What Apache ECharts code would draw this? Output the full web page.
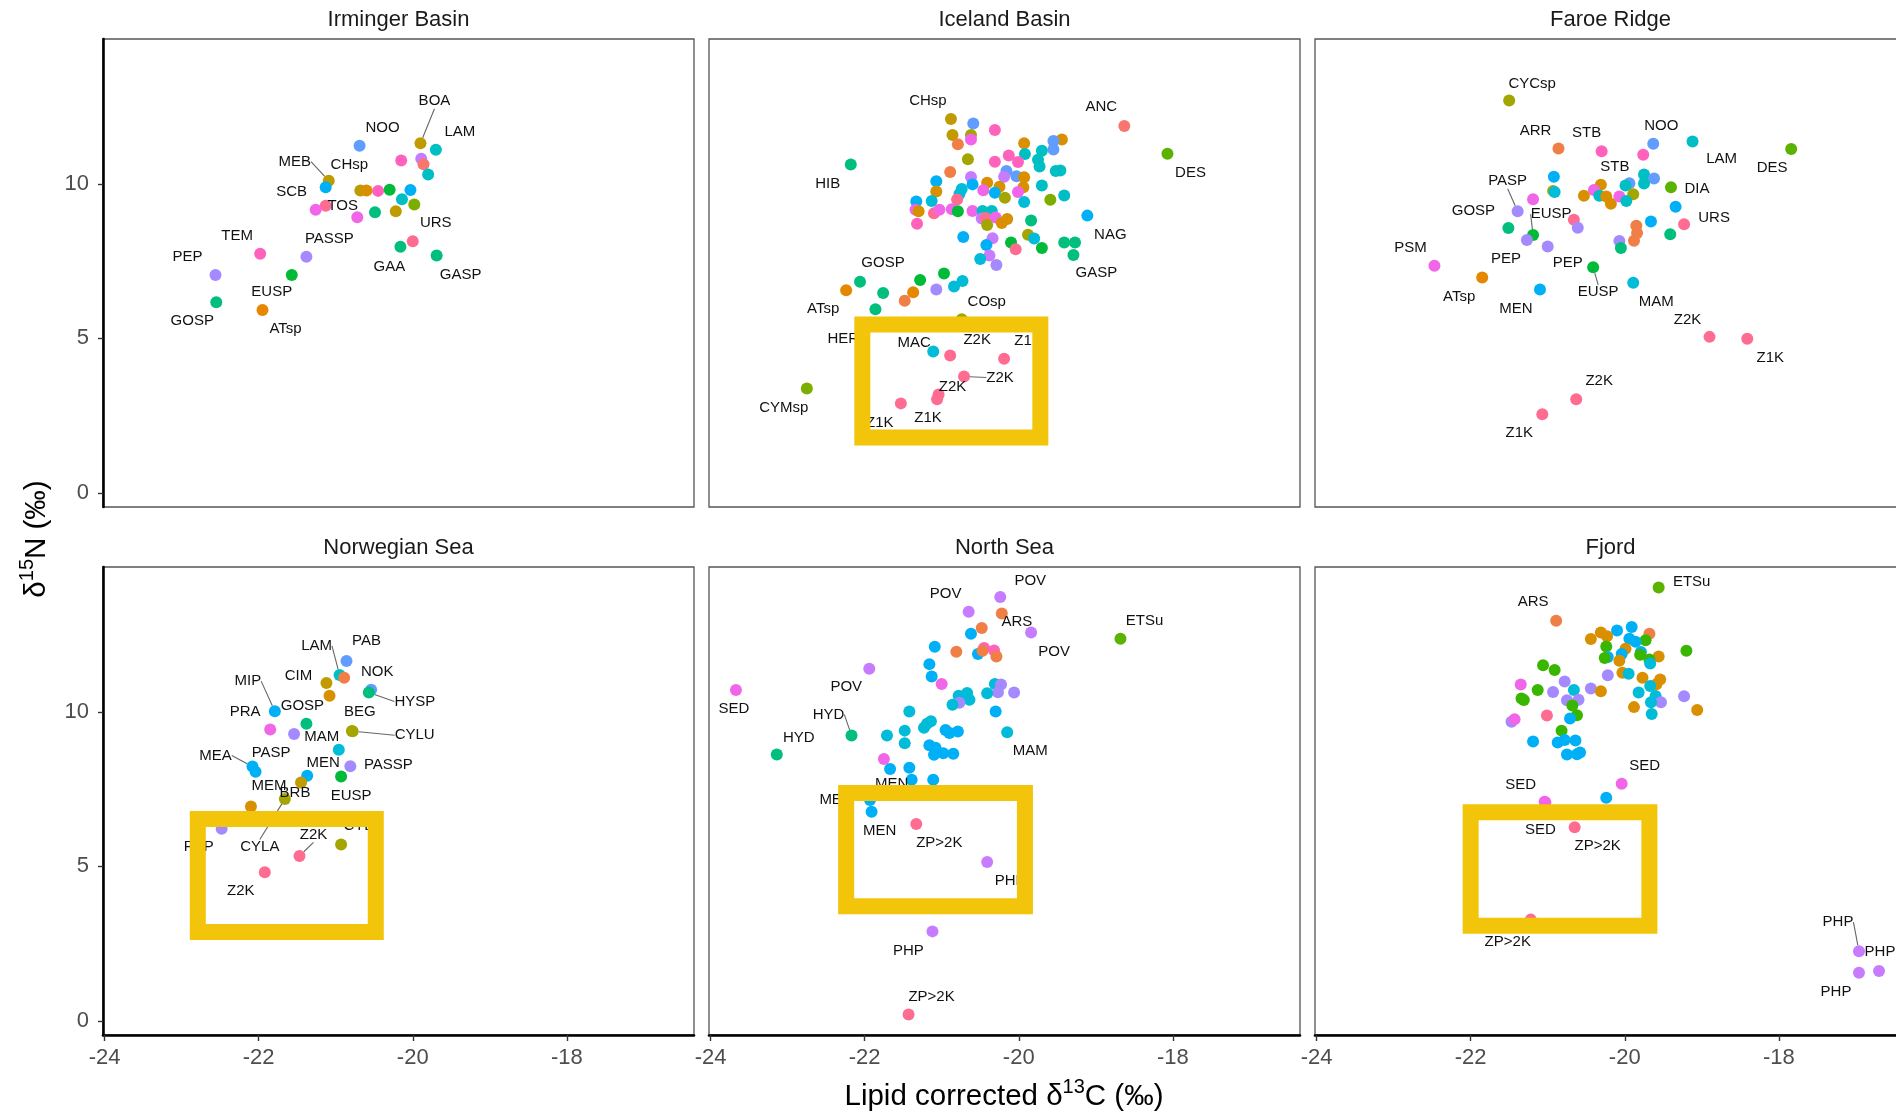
<!DOCTYPE html>
<html>
<head>
<meta charset="utf-8">
<script src="https://cdn.jsdelivr.net/npm/echarts@6/dist/echarts.min.js"></script>
<style>
  html, body { margin: 0; padding: 0; background: #ffffff; }
  #chart { width: 1896px; height: 1115px; }
</style>
</head>
<body>
<div id="chart"></div>
<script>
// ---------------------------------------------------------------------------
// Stable isotope biplots (δ13C vs δ15N) per region, taxa coloured by group.
// ---------------------------------------------------------------------------

const regionNames = ['Irminger Basin', 'Iceland Basin', 'Faroe Ridge', 'Norwegian Sea', 'North Sea', 'Fjord'];
const xTicks = [-24, -22, -20, -18];
const yTicks = [0, 5, 10];

// taxon group -> colour (hue wheel)
const taxonColours = ['#F8766D', '#EF7F46', '#E58700', '#D89000', '#C09B00', '#A3A500', '#5BB300',
  '#00BA38', '#00BF7D', '#00BFC4', '#00BCD8', '#00B0F6', '#619CFF', '#A58AFF', '#C77CFF',
  '#F166E8', '#FF62BC', '#FF6C91', '#7CAE00', '#39B600'];

// ---- Irminger Basin
const irmingerC = [-20.69, -19.90, -19.70, -20.15, -19.89, -19.86, -19.80, -21.09, -21.13, -20.68, -20.60, -20.45, -20.30, -20.03, -20.14, -19.98, -21.13, -21.26, -20.49, -20.22, -20.72, -20.00, -20.16, -19.69, -21.98, -21.38, -22.56, -21.57, -22.55, -21.95];
const irmingerN = [11.23, 11.31, 11.10, 10.75, 10.81, 10.63, 10.30, 10.10, 9.89, 9.78, 9.78, 9.77, 9.81, 9.80, 9.50, 9.33, 9.29, 9.16, 9.08, 9.11, 8.92, 8.14, 7.96, 7.68, 7.74, 7.64, 7.05, 7.05, 6.17, 5.92];
const irmingerGroup = [12, 4, 9, 16, 14, 0, 9, 4, 11, 4, 3, 16, 7, 11, 9, 18, 17, 15, 8, 4, 15, 17, 8, 8, 16, 13, 13, 7, 8, 2];
const irmingerTaxon = ['NOO', 'BOA', 'LAM', '', '', '', '', 'MEB', 'SCB', 'CHsp', '', '', '', '', '', '', 'TOS', '', '', '', '', 'URS', 'GAA', 'GASP', 'TEM', 'PASSP', 'PEP', 'EUSP', 'GOSP', 'ATsp'];

// ---- Iceland Basin
const icelandC = [-18.63, -18.07, -22.18, -20.88, -20.59, -20.31, -20.86, -20.62, -20.62, -20.79, -19.93, -19.44, -19.55, -19.55, -19.92, -19.70, -20.66, -20.31, -20.13, -20.01, -19.75, -19.73, -19.52, -19.46, -20.89, -20.16, -20.19, -20.03, -19.93, -20.62, -21.07, -20.41, -20.60, -20.25, -19.94, -20.74, -19.70, -20.46, -21.07, -20.31, -20.77, -20.18, -20.01, -19.41, -19.59, -19.93, -21.33, -21.13, -20.80, -21.34, -21.30, -21.10, -21.03, -20.87, -20.79, -20.60, -20.47, -20.35, -20.48, -20.43, -20.30, -20.41, -20.22, -20.15, -21.32, -19.84, -19.11, -20.72, -20.34, -19.88, -19.80, -20.10, -19.70, -19.41, -19.27, -19.29, -20.42, -20.04, -20.38, -20.50, -20.29, -20.97, -21.28, -20.73, -20.84, -21.07, -22.06, -22.24, -21.76, -21.37, -21.48, -21.86, -20.74, -22.03, -21.11, -20.89, -20.19, -20.71, -21.04, -21.06, -21.53, -22.75];
const icelandN = [11.87, 10.97, 10.62, 12.09, 11.95, 11.74, 11.58, 11.58, 11.43, 11.28, 11.31, 11.43, 11.38, 11.11, 10.96, 11.07, 10.79, 10.71, 10.91, 10.70, 10.78, 10.56, 10.41, 10.43, 10.38, 10.41, 10.23, 10.24, 10.21, 10.22, 10.08, 10.03, 9.98, 9.90, 9.89, 9.83, 9.94, 9.79, 9.75, 9.71, 9.67, 9.55, 9.73, 9.62, 9.48, 9.41, 9.43, 9.44, 9.49, 9.16, 9.11, 9.05, 9.16, 9.18, 9.11, 9.12, 9.12, 9.12, 8.88, 8.89, 8.91, 8.67, 8.73, 8.86, 8.71, 8.81, 8.97, 8.28, 8.24, 8.35, 8.23, 8.10, 7.92, 8.10, 8.10, 7.70, 8.02, 7.88, 7.68, 7.57, 7.37, 7.10, 6.89, 6.86, 6.68, 6.58, 6.83, 6.56, 6.47, 6.49, 6.22, 5.94, 5.62, 4.92, 4.58, 4.45, 4.34, 3.77, 3.19, 3.03, 2.90, 3.38];
const icelandGroup = [0, 6, 8, 4, 12, 16, 4, 5, 15, 1, 3, 3, 12, 12, 9, 9, 5, 16, 16, 16, 9, 9, 9, 9, 1, 12, 14, 12, 3, 14, 11, 3, 11, 3, 3, 10, 9, 15, 3, 11, 10, 5, 15, 9, 18, 10, 11, 10, 17, 15, 3, 17, 15, 15, 7, 15, 9, 9, 14, 17, 15, 5, 3, 3, 16, 8, 11, 11, 14, 5, 10, 7, 7, 8, 8, 8, 11, 17, 14, 10, 13, 7, 7, 10, 10, 13, 8, 2, 8, 2, 1, 8, 5, 9, 10, 17, 17, 17, 17, 17, 17, 18];
const icelandTaxon = ['ANC', 'DES', 'HIB', 'CHsp', '', '', '', '', '', '', '', '', '', '', '', '', '', '', '', '', '', '', '', '', '', '', '', '', '', '', '', '', '', '', '', '', '', '', '', '', '', '', '', '', '', '', '', '', '', '', '', '', '', '', '', '', '', '', '', '', '', '', '', '', '', '', 'NAG', '', '', '', '', '', '', '', '', 'GASP', '', '', '', '', '', '', '', '', '', '', 'GOSP', 'ATsp', '', '', '', '', 'COsp', 'HER', 'MAC', 'Z2K', 'Z1K', 'Z2K', 'Z2K', 'Z1K', 'Z1K', 'CYMsp'];

// ---- Faroe Ridge
const faroeC = [-21.50, -20.86, -20.30, -19.63, -19.76, -19.12, -17.84, -20.92, -20.93, -20.91, -21.19, -21.39, -19.75, -19.62, -19.94, -19.99, -19.75, -20.31, -20.40, -20.53, -20.33, -20.24, -20.18, -20.07, -19.89, -19.98, -19.40, -19.34, -19.66, -19.23, -19.41, -19.85, -19.84, -19.88, -20.07, -20.05, -20.66, -20.61, -21.51, -21.19, -21.27, -21.00, -22.47, -21.85, -20.41, -21.10, -19.89, -18.90, -18.41, -20.63, -21.07];
const faroeN = [12.69, 11.14, 11.05, 11.29, 10.94, 11.37, 11.12, 10.23, 9.77, 9.73, 9.50, 9.11, 10.30, 10.17, 10.02, 9.94, 10.01, 9.97, 9.80, 9.61, 9.61, 9.59, 9.35, 9.59, 9.66, 9.44, 9.89, 9.26, 8.78, 8.69, 8.37, 8.64, 8.41, 8.16, 8.15, 7.92, 8.84, 8.58, 8.57, 8.34, 8.18, 7.97, 7.35, 6.97, 7.30, 6.58, 6.80, 5.05, 4.99, 3.03, 2.55];
const faroeGroup = [5, 1, 16, 12, 16, 9, 6, 11, 5, 10, 15, 13, 9, 12, 12, 9, 9, 3, 15, 3, 9, 3, 3, 15, 5, 9, 6, 11, 11, 17, 8, 1, 1, 1, 13, 8, 17, 13, 8, 7, 13, 13, 15, 2, 7, 11, 10, 17, 17, 17, 17];
const faroeTaxon = ['CYCsp', 'ARR', 'STB', 'NOO', '', 'LAM', 'DES', '', '', '', '', 'PASP', '', '', '', '', '', '', 'STB', '', '', '', '', '', '', '', 'DIA', '', '', 'URS', '', '', '', '', '', '', '', '', 'GOSP', 'EUSP', 'PEP', 'PEP', 'PSM', 'ATsp', 'EUSP', 'MEN', 'MAM', 'Z2K', 'Z1K', 'Z2K', 'Z1K'];

// ---- Norwegian Sea
const norwegianC = [-20.86, -20.95, -20.89, -21.12, -21.08, -20.54, -20.57, -21.79, -21.38, -21.85, -21.54, -20.79, -20.78, -20.96, -20.81, -22.08, -22.04, -21.37, -20.93, -21.45, -21.66, -22.10, -22.48, -20.93, -21.47, -21.92];
const norwegianN = [11.64, 11.19, 11.10, 10.93, 10.52, 10.71, 10.62, 10.02, 9.61, 9.43, 9.28, 9.38, 9.37, 8.77, 8.24, 8.23, 8.06, 7.93, 7.91, 7.71, 7.18, 6.94, 6.22, 5.71, 5.34, 4.81];
const norwegianGroup = [12, 9, 1, 4, 3, 12, 8, 11, 8, 15, 13, 5, 5, 10, 13, 11, 11, 11, 7, 4, 5, 3, 13, 5, 17, 17];
const norwegianTaxon = ['PAB', 'LAM', '', 'CIM', '', 'NOK', 'HYSP', 'MIP', 'GOSP', 'PRA', 'PASP', 'BEG', 'CYLU', 'MAM', 'PASSP', 'MEA', '', 'MEN', 'EUSP', 'BRB', 'CYLA', 'MEM', 'PEP', 'CYLA', 'Z2K', 'Z2K'];

// ---- North Sea
const northSeaC = [-20.24, -20.65, -20.22, -19.84, -18.68, -20.62, -20.48, -21.09, -20.81, -20.45, -20.32, -20.53, -20.47, -20.29, -21.94, -21.16, -21.13, -21.00, -20.31, -20.23, -20.27, -20.06, -20.41, -20.78, -20.67, -20.64, -20.77, -20.86, -20.30, -21.42, -21.14, -21.19, -21.23, -21.48, -21.71, -21.48, -20.95, -20.90, -20.79, -20.15, -21.16, -21.08, -21.10, -20.98, -20.85, -22.17, -23.14, -23.67, -21.75, -21.67, -21.42, -21.39, -21.11, -21.93, -21.91, -21.33, -20.41, -21.12, -21.43];
const northSeaN = [13.71, 13.23, 13.18, 12.56, 12.36, 12.52, 12.71, 12.10, 11.94, 12.06, 11.98, 11.87, 11.97, 11.79, 11.39, 11.54, 11.14, 10.90, 10.90, 10.88, 10.63, 10.62, 10.60, 10.52, 10.61, 10.39, 10.29, 10.23, 10.01, 10.01, 9.69, 9.61, 9.48, 9.39, 9.23, 8.98, 9.41, 9.31, 9.36, 9.34, 8.92, 8.84, 8.61, 8.66, 8.64, 9.23, 8.62, 10.70, 8.47, 8.15, 8.19, 7.80, 7.80, 7.15, 6.77, 6.37, 5.14, 2.90, 0.21];
const northSeaGroup = [14, 14, 1, 14, 6, 11, 1, 11, 1, 16, 16, 11, 1, 1, 14, 11, 11, 15, 10, 13, 13, 13, 10, 10, 10, 10, 13, 10, 11, 10, 10, 10, 10, 10, 10, 10, 11, 11, 11, 10, 11, 11, 11, 11, 11, 8, 8, 15, 15, 11, 11, 11, 11, 11, 11, 17, 14, 14, 17];
const northSeaTaxon = ['POV', 'POV', 'ARS', 'POV', 'ETSu', '', '', '', '', '', '', '', '', '', 'POV', '', '', '', '', '', '', '', '', '', '', '', '', '', '', '', '', '', '', '', '', '', '', '', '', 'MAM', '', '', '', '', '', 'HYD', 'HYD', 'SED', '', '', '', 'MEN', '', 'MEN', 'MEN', 'ZP>2K', 'PHP', 'PHP', 'ZP>2K'];

// ---- Fjord
const fjordC = [-19.56, -20.89, -20.10, -19.91, -19.68, -20.31, -20.23, -20.44, -19.94, -19.73, -19.86, -20.24, -19.99, -20.04, -19.20, -19.79, -19.80, -20.22, -20.26, -20.07, -19.56, -19.68, -19.67, -21.06, -20.91, -20.03, -19.95, -20.22, -19.77, -19.54, -19.59, -19.67, -20.78, -21.35, -21.13, -20.93, -20.66, -20.44, -20.31, -19.82, -19.23, -21.34, -21.31, -20.75, -20.60, -19.60, -19.53, -19.66, -19.06, -19.88, -19.65, -20.68, -20.62, -20.71, -21.01, -21.47, -21.43, -20.82, -21.19, -20.87, -20.78, -20.64, -20.75, -20.62, -20.58, -20.04, -20.24, -21.04, -21.03, -20.65, -21.22, -16.96, -16.70, -16.96];
const fjordN = [14.02, 12.94, 12.63, 12.74, 12.52, 12.56, 12.44, 12.35, 12.36, 12.31, 12.26, 12.11, 12.04, 11.87, 11.97, 11.93, 11.84, 11.77, 11.74, 11.65, 11.79, 11.69, 11.56, 11.50, 11.35, 11.26, 11.23, 11.18, 11.10, 11.04, 10.89, 10.83, 10.98, 10.88, 10.70, 10.64, 10.70, 10.75, 10.66, 10.62, 10.50, 10.43, 10.38, 10.37, 10.39, 10.51, 10.31, 10.31, 10.06, 10.15, 9.93, 10.20, 9.89, 9.78, 9.88, 9.68, 9.76, 9.39, 9.04, 9.01, 9.09, 9.07, 8.62, 8.63, 8.68, 7.67, 7.22, 7.09, 7.07, 6.27, 3.28, 2.26, 1.62, 1.56];
const fjordGroup = [6, 1, 11, 11, 1, 3, 3, 3, 11, 19, 11, 19, 3, 11, 19, 11, 19, 11, 19, 3, 3, 19, 10, 19, 19, 3, 10, 13, 3, 3, 3, 10, 13, 15, 19, 13, 10, 13, 3, 10, 13, 19, 19, 13, 13, 10, 13, 10, 3, 3, 10, 19, 19, 11, 17, 13, 15, 19, 11, 11, 11, 11, 11, 11, 11, 15, 11, 15, 15, 17, 17, 14, 14, 14];
const fjordTaxon = ['ETSu', 'ARS', '', '', '', '', '', '', '', '', '', '', '', '', '', '', '', '', '', '', '', '', '', '', '', '', '', '', '', '', '', '', '', '', '', '', '', '', '', '', '', '', '', '', '', '', '', '', '', '', '', '', '', '', '', '', '', '', '', '', '', '', '', '', '', 'SED', '', 'SED', 'SED', 'ZP>2K', 'ZP>2K', 'PHP', 'PHP', 'PHP'];

// highlighted regions, [δ13C left, δ15N top, δ13C right, δ15N bottom]
const icelandBox = [-22.03, 5.45, -19.72, 1.80];
const norwegianBox = [-22.79, 6.53, -20.48, 2.88];
const northSeaBox = [-22.24, 7.37, -19.92, 3.71];
const fjordBox = [-22.00, 6.75, -19.68, 3.08];

// ---------------------------------------------------------------------------
// Label placement (pixel offsets from the point, in label order; third
// entry = draw a leader segment)
// ---------------------------------------------------------------------------
const irmingerNudge = [[23, -18], [14, -42, 1], [24, -18], [-34, -19, 1], [-34, 5], [-11, -26], [17, 0], [23, -18], [-11, 20], [24, 19], [-23, -18], [23, -18], [-28, -18], [-20, 17], [-24, 19], [23, 19]];
const icelandNudge = [[-23, -19], [23, 19], [-23, 19], [-23, -18], [23, 19], [23, 18], [23, -19], [-23, 19], [25, -17], [-19, -2], [-19, -9], [27, -16], [24, -18], [36, 1, 1], [14, -8], [-9, 19], [-21, 19], [-23, 19]];
const faroeNudge = [[23, -17], [-23, -18], [-15, -18], [8, -18], [29, 17], [-19, 19], [-10, -30, 1], [21, -23], [26, 2], [30, -6], [-35, -17], [18, -21, 1], [-21, 19], [20, 16], [-24, -18], [-23, 19], [5, 25, 1], [-24, 19], [23, 19], [-22, -17], [23, 19], [23, -18], [-23, 19]];
const norwegianNudge = [[20, -20], [-23, -29, 1], [-28, -7], [6, -18], [46, 9, 1], [-27, -30, 1], [-4, -18], [-25, -18], [-23, 19], [8, -19], [62, 4, 1], [-17, -13], [38, -1], [-37, -11, 1], [16, -13], [10, 19], [-6, 10], [-25, 48, 1], [18, -21], [-23, 18], [22, -19], [14, -21, 1], [-24, 19]];
const northSeaNudge = [[30, -16], [-23, -18], [15, 8], [23, 19], [24, -18], [-23, 18], [23, 19], [-23, -21, 1], [22, -17], [-2, 19], [-20, 4], [-34, 0], [8, 19], [23, 19], [23, 19], [-24, 19], [23, -18]];
const fjordNudge = [[33, -6], [-23, -19], [23, -18], [-24, -17], [-5, 27], [23, 19], [-23, 22], [-21, -29, 1], [1, -19], [-23, 19]];

// ---------------------------------------------------------------------------
const FONT = '"Liberation Sans", Arial, Helvetica, sans-serif';
const COL_LEFT = [103, 709, 1315];
const ROW_TOP = [39, 567];
const PANEL_W = 591;
const PANEL_H = 468;
const X_RANGE = [-24.02, -16.35];
const Y_RANGE = [-0.45, 14.68];
const BOX_COLOUR = '#F2C40A';

const panels = [
  { c: irmingerC, n: irmingerN, g: irmingerGroup, t: irmingerTaxon, nudge: irmingerNudge, box: null },
  { c: icelandC, n: icelandN, g: icelandGroup, t: icelandTaxon, nudge: icelandNudge, box: icelandBox },
  { c: faroeC, n: faroeN, g: faroeGroup, t: faroeTaxon, nudge: faroeNudge, box: null },
  { c: norwegianC, n: norwegianN, g: norwegianGroup, t: norwegianTaxon, nudge: norwegianNudge, box: norwegianBox },
  { c: northSeaC, n: northSeaN, g: northSeaGroup, t: northSeaTaxon, nudge: northSeaNudge, box: northSeaBox },
  { c: fjordC, n: fjordN, g: fjordGroup, t: fjordTaxon, nudge: fjordNudge, box: fjordBox }
];

const grid = [], xAxis = [], yAxis = [], series = [], graphic = [];

panels.forEach((p, k) => {
  const col = k % 3, row = Math.floor(k / 3);
  grid.push({
    left: COL_LEFT[col], top: ROW_TOP[row], width: PANEL_W, height: PANEL_H,
    show: true, borderColor: '#555555', borderWidth: 1.3, backgroundColor: 'transparent',
    containLabel: false, outerBoundsMode: 'none'
  });
  const bottomRow = row === 1, leftCol = col === 0;
  xAxis.push({
    gridIndex: k, type: 'value', min: X_RANGE[0], max: X_RANGE[1],
    splitLine: { show: false },
    axisLine: { show: bottomRow, onZero: false, lineStyle: { color: '#000', width: 2.6 } },
    axisTick: { show: bottomRow, customValues: xTicks, length: 6, lineStyle: { color: '#333', width: 1.4 } },
    axisLabel: { show: bottomRow, customValues: xTicks, fontSize: 22, color: '#4D4D4D', fontFamily: FONT, margin: 12 }
  });
  yAxis.push({
    gridIndex: k, type: 'value', min: Y_RANGE[0], max: Y_RANGE[1],
    splitLine: { show: false },
    axisLine: { show: leftCol, onZero: false, lineStyle: { color: '#000', width: 2.6 } },
    axisTick: { show: leftCol, customValues: yTicks, length: 5, lineStyle: { color: '#333', width: 1.4 } },
    axisLabel: { show: leftCol, customValues: yTicks, fontSize: 22, color: '#4D4D4D', fontFamily: FONT, margin: 14 }
  });

  // scatter points with their taxon codes
  let li = 0;
  const data = p.c.map((cv, i) => {
    const item = { value: [cv, p.n[i]], itemStyle: { color: taxonColours[p.g[i]] } };
    if (p.t[i]) {
      const nd = p.nudge[li++];
      item.label = { show: true, formatter: p.t[i], offset: [nd[0], nd[1]] };
      if (nd[2]) item.labelLine = { show: true };
    }
    return item;
  });
  series.push({
    type: 'scatter', xAxisIndex: k, yAxisIndex: k, z: 2,
    symbol: 'circle', symbolSize: 12,
    itemStyle: { opacity: 1 },
    label: { show: false, position: 'inside', color: '#111', fontSize: 15, fontFamily: FONT, align: 'center', verticalAlign: 'middle' },
    labelLine: { show: false, smooth: false, lineStyle: { color: '#666', width: 1.1 } },
    emphasis: { disabled: true },
    data: data
  });

  // highlight frame
  if (p.box) {
    series.push({
      type: 'custom', xAxisIndex: k, yAxisIndex: k, z: 20, silent: true, clip: false,
      data: [p.box],
      renderItem: function (params, api) {
        const a = api.coord([api.value(0), api.value(1)]);
        const b = api.coord([api.value(2), api.value(3)]);
        return {
          type: 'rect',
          shape: { x: a[0], y: a[1], width: b[0] - a[0], height: b[1] - a[1] },
          style: { fill: 'none', stroke: BOX_COLOUR, lineWidth: 16, lineJoin: 'miter' }
        };
      }
    });
  }

  // strip title
  graphic.push({
    type: 'text', x: COL_LEFT[col] + PANEL_W / 2, y: ROW_TOP[row] - 19, silent: true,
    style: { text: regionNames[k], fontSize: 22, fill: '#1A1A1A', fontFamily: FONT, align: 'center', verticalAlign: 'middle' }
  });
});

// axis titles
const titleRich = {
  n: { fontSize: 29.5, fill: '#000', fontFamily: FONT, lineHeight: 40 },
  s: { fontSize: 20, fill: '#000', fontFamily: FONT, verticalAlign: 'top', lineHeight: 23 }
};
graphic.push({
  type: 'text', x: 1004, y: 1097, silent: true,
  style: { text: '{n|Lipid corrected δ}{s|13}{n|C (‰)}', rich: titleRich, align: 'center', verticalAlign: 'middle' }
});
graphic.push({
  type: 'text', x: 37, y: 539, rotation: Math.PI / 2, silent: true,
  style: { text: '{n|δ}{s|15}{n|N (‰)}', rich: titleRich, align: 'center', verticalAlign: 'middle' }
});

const chart = echarts.init(document.getElementById('chart'), null, { renderer: 'canvas', width: 1896, height: 1115 });
chart.setOption({
  animation: false,
  backgroundColor: '#ffffff',
  grid: grid,
  xAxis: xAxis,
  yAxis: yAxis,
  series: series,
  graphic: graphic
});
</script>
</body>
</html>
